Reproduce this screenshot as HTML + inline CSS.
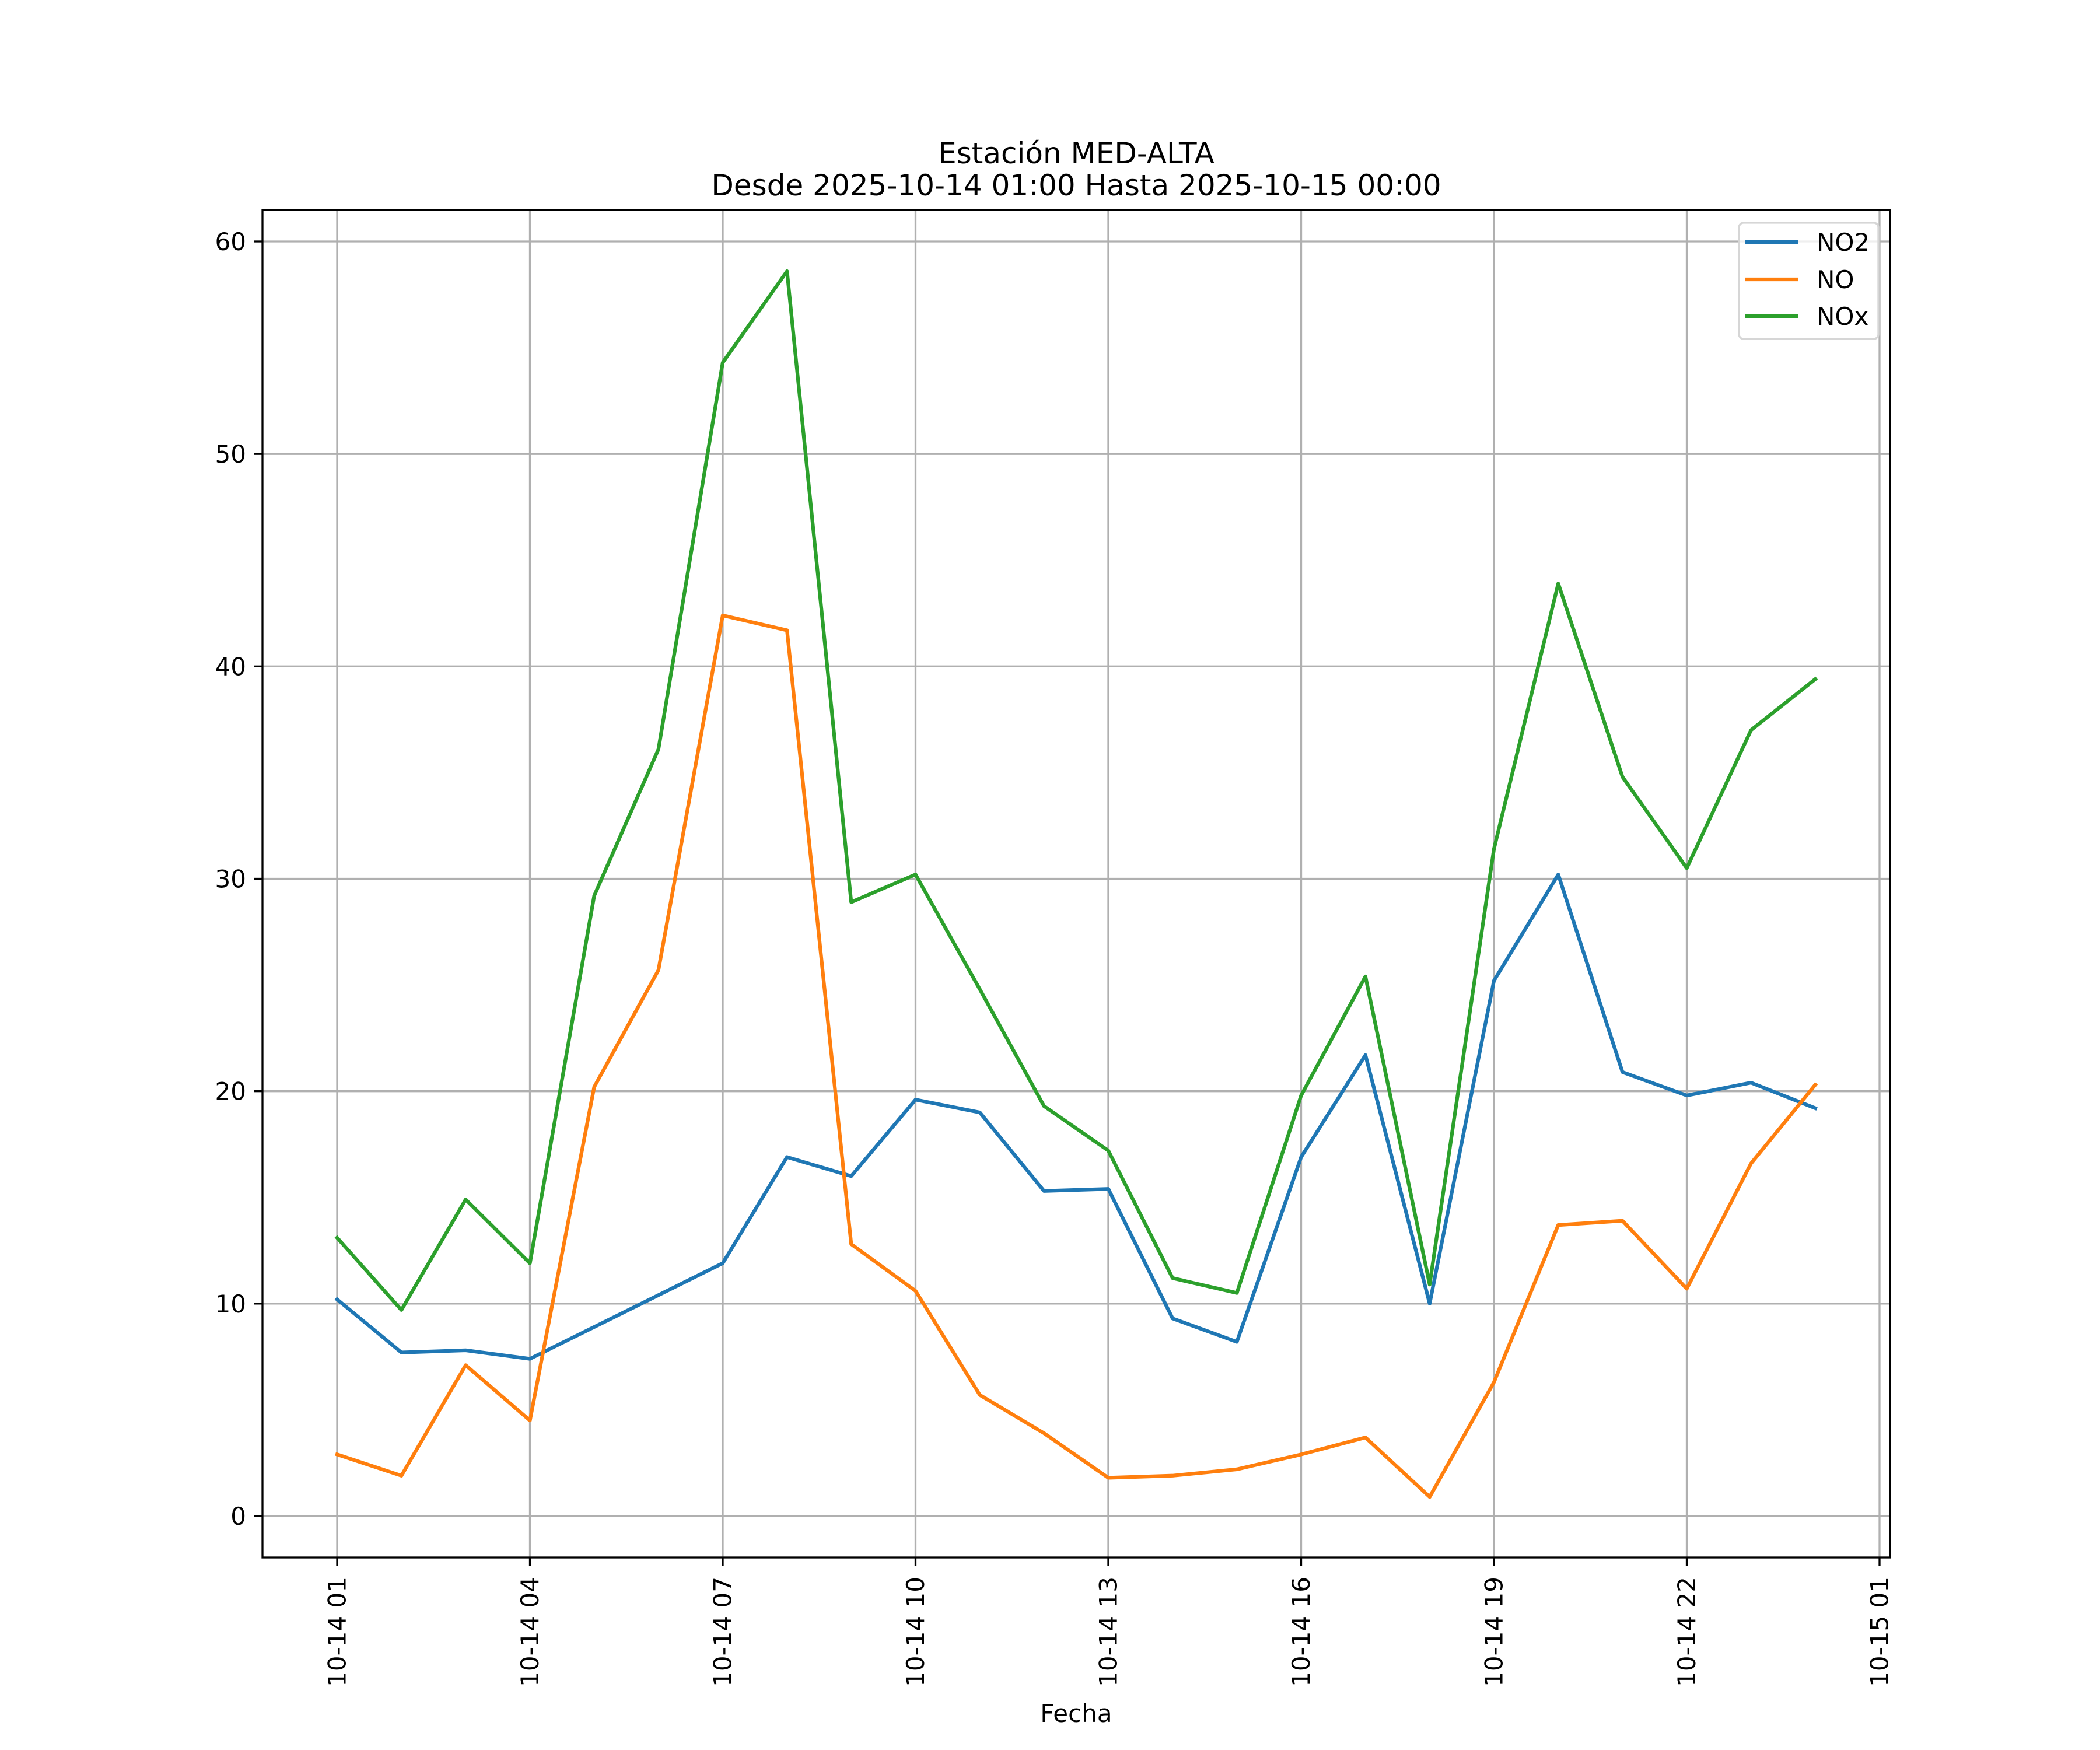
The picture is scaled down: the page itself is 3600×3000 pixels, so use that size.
<!DOCTYPE html>
<html><head><meta charset="utf-8"><style>html,body{margin:0;padding:0;background:#fff}svg{display:block}text{font-family:"DejaVu Sans","Liberation Sans",sans-serif;fill:#000}</style></head>
<body>
<svg id="chart" width="3600" height="3000" viewBox="0 0 3600 3000" xmlns="http://www.w3.org/2000/svg">
<rect width="3600" height="3000" fill="#fff"/>
<g id="grid"></g>
<g id="series"></g>
<rect x="450" y="360" width="2790" height="2310" fill="none" stroke="#000" stroke-width="3.3"/>
<g id="ticks"></g>
<text x="1845" y="280" font-size="50" text-anchor="middle">Estación MED-ALTA</text>
<text x="1845" y="335" font-size="50" text-anchor="middle">Desde 2025-10-14 01:00 Hasta 2025-10-15 00:00</text>
<text x="1845" y="2952" font-size="42" text-anchor="middle">Fecha</text>
<g>
<rect x="2981" y="382" width="239" height="199" rx="8" fill="#fff" fill-opacity="0.8" stroke="#d6d6d6" stroke-width="3.3"/>
<line x1="2992" y1="415" x2="3082" y2="415" stroke="#1f77b4" stroke-width="6.25"/>
<text x="3114" y="430" font-size="42">NO2</text>
<line x1="2992" y1="479" x2="3082" y2="479" stroke="#ff7f0e" stroke-width="6.25"/>
<text x="3114" y="494" font-size="42">NO</text>
<line x1="2992" y1="542" x2="3082" y2="542" stroke="#2ca02c" stroke-width="6.25"/>
<text x="3114" y="557" font-size="42">NOx</text>
</g>
</svg>
<script>
const hours = [1,2,3,4,5,6,7,8,9,10,11,12,13,14,15,16,17,18,19,20,21,22,23,24];
const no2 = [10.2,7.7,7.8,7.4,8.9,10.4,11.9,16.9,16.0,19.6,19.0,15.3,15.4,9.3,8.2,16.9,21.7,10.0,25.2,30.2,20.9,19.8,20.4,19.2];
const no = [2.9,1.9,7.1,4.5,20.2,25.7,42.4,41.7,12.8,10.6,5.7,3.9,1.8,1.9,2.2,2.9,3.7,0.9,6.3,13.7,13.9,10.7,16.6,20.3];
const nox = [13.1,9.7,14.9,11.9,29.2,36.1,54.3,58.6,28.9,30.2,24.8,19.3,17.2,11.2,10.5,19.8,25.4,10.9,31.4,43.9,34.8,30.5,37.0,39.4];
const xTickHours = [1,4,7,10,13,16,19,22,25];
const xTickLabels = ["10-14 01","10-14 04","10-14 07","10-14 10","10-14 13","10-14 16","10-14 19","10-14 22","10-15 01"];
const yTicks = [0,10,20,30,40,50,60];

const NS = "http://www.w3.org/2000/svg";
function xs(h){ return 578 + (h - 1) * (3222 - 578) / 24; }
function ys(v){ return 2599 - v * (2599 - 414) / 60; }
function mk(tag, attrs, parent){ const e = document.createElementNS(NS, tag); for (const k in attrs) e.setAttribute(k, attrs[k]); parent.appendChild(e); return e; }
const grid = document.getElementById('grid'), ticks = document.getElementById('ticks'), series = document.getElementById('series');

xTickHours.forEach((h, i) => {
  const x = xs(h);
  const g = mk('line', {x1:x, y1:360, x2:x, y2:2670, stroke:'#b0b0b0', 'stroke-width':3.3}, grid);
  
  
  const t = mk('line', {x1:x, y1:2670, x2:x, y2:2684, stroke:'#000', 'stroke-width':3.3}, ticks);
  
  
  const lb = mk('text', {x:0, y:0, 'font-size':42, 'text-anchor':'end', 'dominant-baseline':'central', transform:'translate(' + x + ',2703) rotate(-90)'}, ticks);
  lb.textContent = xTickLabels[i];
  
  
});
yTicks.forEach(v => {
  const y = ys(v);
  const g = mk('line', {x1:450, y1:y, x2:3240, y2:y, stroke:'#b0b0b0', 'stroke-width':3.3}, grid);
  
  
  const t = mk('line', {x1:436, y1:y, x2:450, y2:y, stroke:'#000', 'stroke-width':3.3}, ticks);
  
  
  const lb = mk('text', {x:422, y:y + 15, 'font-size':42, 'text-anchor':'end'}, ticks);
  lb.textContent = String(v);
  
  
});
function drawLine(vals, color, name){
  const pts = vals.map((v, i) => xs(hours[i]).toFixed(1) + ',' + ys(v).toFixed(1)).join(' ');
  const p = mk('polyline', {points:pts, fill:'none', stroke:color, 'stroke-width':6.25, 'stroke-linejoin':'round', 'stroke-linecap':'square'}, series);
  
  
}
drawLine(no2, '#1f77b4', 'line-no2');
drawLine(no, '#ff7f0e', 'line-no');
drawLine(nox, '#2ca02c', 'line-nox');
</script>
</body></html>
